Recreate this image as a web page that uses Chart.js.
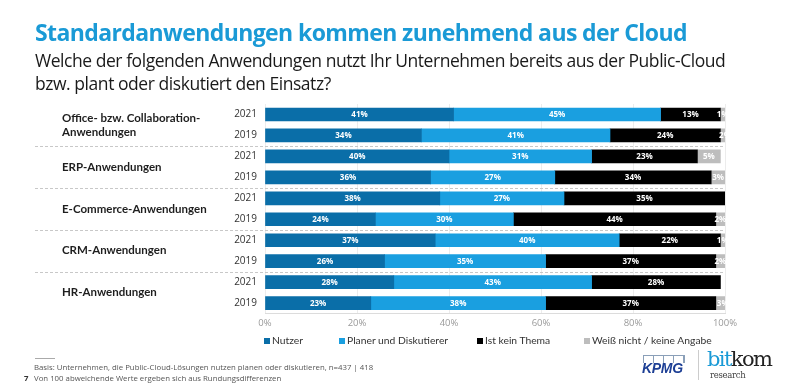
<!DOCTYPE html>
<html><head><meta charset="utf-8">
<script src="https://cdn.jsdelivr.net/npm/chart.js@4.4.0/dist/chart.umd.min.js"></script>
<style>
html,body{margin:0;padding:0;background:#fff;width:800px;height:390px;overflow:hidden;font-family:"Open Sans",sans-serif;}
#wrap{position:relative;width:800px;height:390px;}
canvas{position:absolute;left:0;top:0;}
.t{position:absolute;white-space:nowrap;}
#title{left:35px;top:16px;font-size:23px;font-weight:700;color:#1a9ad6;letter-spacing:-0.6px;}
#sub{left:35px;top:49px;font-size:17.5px;color:#1a1a1a;line-height:23px;letter-spacing:-0.45px;}
.lg{position:absolute;top:334px;font-size:10.3px;color:#333;white-space:nowrap;font-family:Lato,sans-serif;}
.lg span{display:inline-block;width:6px;height:6px;margin-right:2px;vertical-align:0px;}
.ft{position:absolute;left:34px;font-size:7.8px;color:#555;white-space:nowrap;}
</style></head>
<body><div id="wrap">
<canvas id="c" width="800" height="390"></canvas>
<div class="t" id="title">Standardanwendungen kommen zunehmend aus der Cloud</div>
<div class="t" id="sub">Welche der folgenden Anwendungen nutzt Ihr Unternehmen bereits aus der Public-Cloud<br>bzw. plant oder diskutiert den Einsatz?</div>
<div id="legend"></div>
<div style="position:absolute;left:35px;top:358px;width:20px;height:1px;background:#aaa"></div>
<div class="ft" style="top:362px">Basis: Unternehmen, die Public-Cloud-Lösungen nutzen planen oder diskutieren, n=437 | 418</div>
<div class="ft" style="top:373px">Von 100 abweichende Werte ergeben sich aus Rundungsdifferenzen</div>
<div class="ft" style="top:373px;left:24px;font-weight:700;color:#333">7</div>
<div class="t" style="left:643px;top:355px;width:40px;height:7px;border:1px solid #8a9fb8;border-bottom:none;background:repeating-linear-gradient(90deg,transparent 0 9px,#8a9fb8 9px 10px)"></div>
<div class="t" style="left:642px;top:360px;font-size:14px;font-weight:800;font-style:italic;color:#1d3f95;font-family:'Liberation Sans',Arial,sans-serif;letter-spacing:-0.3px">KPMG</div>
<div style="position:absolute;left:698px;top:350px;width:1px;height:30px;background:#ccc"></div>
<div class="t" style="left:707px;top:347px;font-size:21px;font-family:'DejaVu Serif',serif;letter-spacing:-1.6px;line-height:25px"><span style="color:#1a9ad6">bit</span><span style="color:#222">kom</span></div>
<div class="t" style="left:710px;top:370px;font-size:8.5px;color:#444;font-family:'DejaVu Serif',serif;letter-spacing:-0.3px">research</div>
</div>
<script>
const groups = ["Office- bzw. Collaboration-\nAnwendungen","ERP-Anwendungen","E-Commerce-Anwendungen","CRM-Anwendungen","HR-Anwendungen"];
const years = ["2021","2019","2021","2019","2021","2019","2021","2019","2021","2019"];
const seriesNames = ["Nutzer","Planer und Diskutierer","Ist kein Thema","Weiß nicht / keine Angabe"];
const nutzer  = [41,34,40,36,38,24,37,26,28,23];
const planer  = [45,41,31,27,27,30,40,35,43,38];
const keinThema = [13,24,23,34,35,44,22,37,28,37];
const weissNicht = [1,2,5,3,0,2,1,2,0,3];
const xTicks = [0,20,40,60,80,100];
const colors = ["#0a6ea8","#1a9fe0","#000000","#bdbdbd"];

const seriesData = [nutzer, planer, keinThema, weissNicht];

const lgX = [264,339,477,584];
document.getElementById('legend').innerHTML = seriesNames.map((n,i)=>
 `<div class="lg" style="left:${lgX[i]}px"><span style="background:${colors[i]}"></span>${n}</div>`).join('');

const decor = {
  id:'decor',
  beforeDatasetsDraw(chart){
    const {ctx, scales:{y, x}} = chart;
    ctx.save();
    ctx.strokeStyle = '#c8c8c8'; ctx.lineWidth = 1; ctx.setLineDash([3,2]);
    for(let g=1; g<groups.length; g++){
      const yy = Math.round((y.getPixelForValue(g*2-1)+y.getPixelForValue(g*2))/2)+0.5;
      ctx.beginPath(); ctx.moveTo(35,yy); ctx.lineTo(x.right,yy); ctx.stroke();
    }
    ctx.restore();
  },
  afterDatasetsDraw(chart){
    const {ctx, scales:{y}} = chart;
    ctx.save();
    ctx.fillStyle = '#1e1e1e'; ctx.font = '700 11.5px Lato, sans-serif';
    ctx.textBaseline = 'middle'; ctx.textAlign = 'left';
    groups.forEach((g,i)=>{
      const cy = (y.getPixelForValue(i*2)+y.getPixelForValue(i*2+1))/2;
      const lines = g.split('\n');
      lines.forEach((l,k)=>ctx.fillText(l, 62, cy + (k-(lines.length-1)/2)*14));
    });
    ctx.font = '700 8px "Open Sans", sans-serif';
    ctx.textAlign = 'center'; ctx.fillStyle = '#fff';
    chart.data.datasets.forEach((ds,di)=>{
      const meta = chart.getDatasetMeta(di);
      meta.data.forEach((bar,i)=>{
        const v = ds.data[i];
        if(!v) return;
        const cx = (bar.x + bar.base)/2;
        ctx.fillText(v+'%', cx, bar.y+0.5);
      });
    });
    ctx.restore();
  }
};

new Chart(document.getElementById('c'), {
  type:'bar',
  data:{
    labels: years,
    datasets: seriesNames.map((n,i)=>({label:n, data:seriesData[i], backgroundColor:colors[i], barThickness:13, borderWidth:0}))
  },
  options:{
    indexAxis:'y',
    responsive:false, animation:false,
    layout:{padding:{left:0,right:75,top:104,bottom:57}},
    plugins:{legend:{display:false}, tooltip:{enabled:false}},
    scales:{
      x:{stacked:true, min:0, max:100,
         afterBuildTicks(s){ s.ticks = xTicks.map(v=>({value:v})); },
         ticks:{callback:v=>v+'%', color:'#9a9a9a', font:{size:9.5, family:'"Open Sans", sans-serif'}, padding:4},
         grid:{color:'#ececec', drawTicks:false},
         border:{display:true, color:'#dcdcdc'}},
      y:{stacked:true,
         afterFit(s){ s.width = 265; },
         ticks:{color:'#333', font:{size:10, family:'"Open Sans", sans-serif'}, padding:8},
         grid:{display:false, drawTicks:false},
         border:{display:false}}
    }
  },
  plugins:[decor]
});
</script>
</body></html>
